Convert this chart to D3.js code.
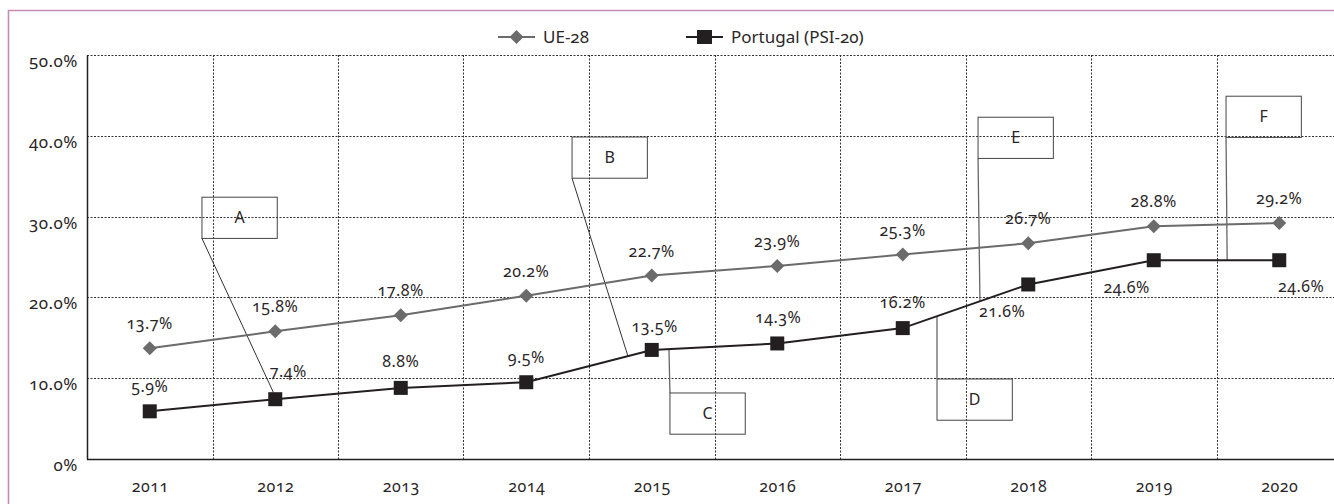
<!DOCTYPE html>
<html>
<head>
<meta charset="utf-8">
<script src="https://cdn.jsdelivr.net/npm/d3@7"></script>
<style>
  body { margin: 0; background: #fff; }
  svg text {
    font-family: "Noto Sans", "Open Sans", sans-serif;
    font-feature-settings: "onum" 1;
    font-variant-numeric: oldstyle-nums;
    fill: #2a2627;
  }
</style>
</head>
<body>
<div id="container"></div>
<script>
/* CONSTANTS AND GLOBALS */
const width = 1334,
  height = 504,
  margin = { top: 55, bottom: 45, left: 87 };

// DATA
const years = ["2011", "2012", "2013", "2014", "2015", "2016", "2017", "2018", "2019", "2020"];
const ue28 = [13.7, 15.8, 17.8, 20.2, 22.7, 23.9, 25.3, 26.7, 28.8, 29.2];
const portugal = [5.9, 7.4, 8.8, 9.5, 13.5, 14.3, 16.2, 21.6, 24.6, 24.6];
const yTicks = [0, 10, 20, 30, 40, 50];
const seriesNames = ["UE-28", "Portugal (PSI-20)"];
const notes = ["A", "B", "C", "D", "E", "F"];

// label nudges (px) for the few labels that don't sit straight above
const ueLabelNudge = years.map(() => [0, -19]);
const ptLabelNudge = [[0, -19], [13, -22], [0, -21], [0, -19], [3, -18], [1, -20], [0, -20], [-26, 33], [-27, 33], [22, 32]];

// callout boxes: left edge (category index units), top (value units), and where the
// leader meets the Portugal line (index units along the line)
const noteBoxLeft = [0.416, 3.365, 4.145, 6.273, 6.60, 8.576];
const noteBoxTop = [32.4, 39.85, 8.17, 9.9, 42.3, 44.9];
const noteAnchorT = [0.985, 3.81, 4.137, 6.273, 6.615, 8.585];

/* SCALES */
const bandW = 125.5;
// category index -> centre of its column
const x = d3.scaleLinear()
  .domain([-0.5, 9.5])
  .range([margin.left, margin.left + 10 * bandW]);

const y = d3.scaleLinear()
  .domain([0, 50])
  .range([height - margin.bottom, margin.top]);

const svg = d3.select("#container")
  .append("svg")
  .attr("width", width)
  .attr("height", height);

// pink frame (cropped on the right and bottom)
svg.append("path")
  .attr("d", `M8.5,${height + 2} V10.5 H${width + 2}`)
  .attr("fill", "none")
  .attr("stroke", "#c68bb7")
  .attr("stroke-width", 1.6);

/* GRID */
svg.append("g")
  .selectAll("line")
  .data(yTicks.filter(d => d > 0))
  .join("line")
  .attr("x1", x(-0.5))
  .attr("x2", width)
  .attr("y1", d => Math.round(y(d)) + 0.5)
  .attr("y2", d => Math.round(y(d)) + 0.5)
  .attr("stroke", "#333")
  .attr("stroke-dasharray", "2,1.5");

svg.append("g")
  .selectAll("line")
  .data(d3.range(0.5, 9, 1))
  .join("line")
  .attr("x1", d => Math.round(x(d)) + 0.5)
  .attr("x2", d => Math.round(x(d)) + 0.5)
  .attr("y1", y(50))
  .attr("y2", y(0))
  .attr("stroke", "#333")
  .attr("stroke-dasharray", "2,1.5");

/* AXES */
const yAxis = d3.axisLeft(y)
  .tickValues(yTicks)
  .tickSize(0)
  .tickPadding(9)
  .tickFormat(d => d === 0 ? "0%" : d3.format(".1f")(d) + "%");

svg.append("g")
  .attr("transform", `translate(${x(-0.5)},0)`)
  .call(yAxis)
  .call(g => g.select(".domain").attr("stroke", "#231f20").attr("stroke-width", 1.5))
  .call(g => g.selectAll("text")
    .attr("font-size", 17)
    .attr("letter-spacing", 0.5)
    .attr("dy", "0.85em")
    .attr("y", -3));

const xAxis = d3.axisBottom(x)
  .tickValues(d3.range(years.length))
  .tickSize(0)
  .tickPadding(22)
  .tickFormat(i => years[i]);

svg.append("g")
  .attr("transform", `translate(0,${y(0)})`)
  .call(xAxis)
  .call(g => g.select(".domain").attr("d", `M${x(-0.5)},0.5H${width}`)
    .attr("stroke", "#231f20").attr("stroke-width", 1.5))
  .call(g => g.selectAll("text").attr("font-size", 16).attr("letter-spacing", 0.5));

/* CALLOUTS (behind the lines) */
const boxW = 0.6, boxH = 5.1;
const ptAt = t => {
  const i = Math.min(Math.floor(t), portugal.length - 2);
  const f = t - i;
  return portugal[i] + f * (portugal[i + 1] - portugal[i]);
};

const callouts = svg.append("g")
  .selectAll("g")
  .data(notes.map((n, k) => ({ n, left: noteBoxLeft[k], top: noteBoxTop[k], t: noteAnchorT[k] })))
  .join("g");

callouts.append("line")
  .attr("x1", d => x(d.left))
  .attr("y1", d => d.top > ptAt(d.t) ? y(d.top - boxH) : y(d.top))
  .attr("x2", d => x(d.t))
  .attr("y2", d => y(ptAt(d.t)) - (d.n === "A" ? 7 : 0))
  .attr("stroke", d => d.n === "A" || d.n === "B" ? "#333" : "#666")
  .attr("stroke-width", d => d.n === "A" || d.n === "B" ? 1 : 1.3);

callouts.append("rect")
  .attr("x", d => x(d.left))
  .attr("y", d => y(d.top))
  .attr("width", d => x(d.left + boxW) - x(d.left))
  .attr("height", d => y(d.top - boxH) - y(d.top))
  .attr("fill", "none")
  .attr("stroke", "#444")
  .attr("stroke-width", 1);

callouts.append("text")
  .attr("x", d => x(d.left + boxW / 2))
  .attr("y", d => y(d.top - boxH / 2))
  .attr("dy", "0.35em")
  .attr("text-anchor", "middle")
  .attr("font-size", 16)
  .text(d => d.n);

/* LINES + MARKERS */
const line = d3.line()
  .x((d, i) => x(i))
  .y(d => y(d));

svg.append("path")
  .datum(ue28)
  .attr("d", line)
  .attr("fill", "none")
  .attr("stroke", "#6b6b6b")
  .attr("stroke-width", 2);

svg.append("path")
  .datum(portugal)
  .attr("d", line)
  .attr("fill", "none")
  .attr("stroke", "#231f20")
  .attr("stroke-width", 2);

const diamond = "M0,-7L7,0L0,7L-7,0Z";

svg.append("g")
  .selectAll("path")
  .data(ue28)
  .join("path")
  .attr("d", diamond)
  .attr("fill", "#6b6b6b")
  .attr("transform", (d, i) => `translate(${x(i)},${y(d)})`);

svg.append("g")
  .selectAll("rect")
  .data(portugal)
  .join("rect")
  .attr("x", (d, i) => x(i) - 7)
  .attr("y", d => y(d) - 7)
  .attr("width", 14)
  .attr("height", 14)
  .attr("fill", "#231f20");

/* DATA LABELS */
const fmt = d => d3.format(".1f")(d) + "%";

svg.append("g")
  .selectAll("text")
  .data(ue28)
  .join("text")
  .attr("x", (d, i) => x(i) + ueLabelNudge[i][0])
  .attr("y", (d, i) => y(d) + ueLabelNudge[i][1])
  .attr("text-anchor", "middle")
  .attr("font-size", 16)
  .attr("letter-spacing", 0.5)
  .text(fmt);

svg.append("g")
  .selectAll("text")
  .data(portugal)
  .join("text")
  .attr("x", (d, i) => x(i) + ptLabelNudge[i][0])
  .attr("y", (d, i) => y(d) + ptLabelNudge[i][1])
  .attr("text-anchor", "middle")
  .attr("font-size", 16)
  .attr("letter-spacing", 0.5)
  .text(fmt);

/* LEGEND */
const legend = svg.append("g")
  .attr("transform", "translate(0,37)");

const legendX = [498, 686];

legend.selectAll("line")
  .data(seriesNames)
  .join("line")
  .attr("x1", (d, i) => legendX[i])
  .attr("x2", (d, i) => legendX[i] + 37)
  .attr("stroke", (d, i) => i === 0 ? "#6b6b6b" : "#231f20")
  .attr("stroke-width", 2);

legend.append("path")
  .attr("d", diamond)
  .attr("fill", "#6b6b6b")
  .attr("transform", `translate(${legendX[0] + 18.5},0)`);

legend.append("rect")
  .attr("x", legendX[1] + 11)
  .attr("y", -7)
  .attr("width", 15)
  .attr("height", 14)
  .attr("fill", "#231f20");

legend.selectAll("text")
  .data(seriesNames)
  .join("text")
  .attr("x", (d, i) => legendX[i] + 45)
  .attr("dy", "0.35em")
  .attr("font-size", 17)
  .text(d => d);
</script>
</body>
</html>
